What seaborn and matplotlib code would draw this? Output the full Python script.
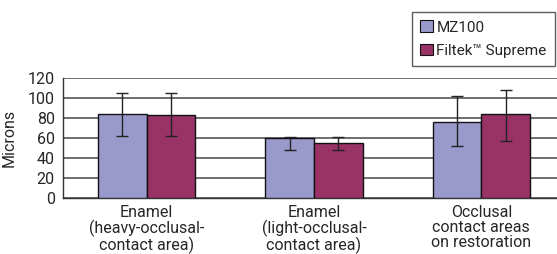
import matplotlib
matplotlib.use("Agg")

import numpy as np
import pandas as pd
import matplotlib.pyplot as plt
import seaborn as sns
from matplotlib.patches import Patch

# values (microns)
categories = ["Enamel\n(heavy-occlusal-\ncontact area)",
              "Enamel\n(light-occlusal-\ncontact area)",
              "Occlusal\ncontact areas\non restoration"]
series = ["MZ100", "Filtek\u2122 Supreme"]
mz100 = [84, 60, 76]
filtek = [83, 55, 84]
mz100_low = [62, 48, 52]
mz100_high = [105, 61, 102]
filtek_low = [62, 48, 57]
filtek_high = [105, 61, 108]
colors = ["#9999cc", "#993366"]
y_ticks = [0, 20, 40, 60, 80, 100, 120]

sns.set_style("white")
plt.rcParams["font.family"] = ["Roboto", "DejaVu Sans"]
FS = 11.5

df = pd.DataFrame({
    "Category": categories * 2,
    "Material": [series[0]] * 3 + [series[1]] * 3,
    "Microns": mz100 + filtek,
})

fig = plt.figure(figsize=(5.57, 2.54), dpi=100)
ax = fig.add_axes([63 / 557, 56 / 254, 498 / 557, 120 / 254])

sns.barplot(data=df, x="Category", y="Microns", hue="Material",
            palette=colors, saturation=1, width=0.58, errorbar=None,
            edgecolor="#111111", linewidth=1, ax=ax, legend=False, zorder=3)

# error bars, placed on the bars seaborn drew
lows = mz100_low + filtek_low
highs = mz100_high + filtek_high
vals = mz100 + filtek
bars = [p for p in ax.patches][:6]
for bar, v, lo, hi in zip(bars, vals, lows, highs):
    xc = bar.get_x() + bar.get_width() / 2
    ax.errorbar(xc, v, yerr=[[v - lo], [hi - v]], fmt="none",
                ecolor="#222222", elinewidth=1, capsize=4.5, capthick=1, zorder=4)

ax.set_ylim(0, 120)
ax.set_xlim(-0.5, 2.5 - 4 / 166)
ax.set_yticks(y_ticks)
ax.yaxis.grid(True, color="#555555", linewidth=1.2, zorder=0)
ax.set_axisbelow(True)
ax.tick_params(axis="y", length=5, width=1, color="#333333", labelsize=FS, pad=1)
ax.tick_params(axis="x", which="major", length=0, labelsize=FS, pad=5)
ax.set_xticks([0.5, 1.5], minor=True)
ax.tick_params(axis="x", which="minor", length=5, width=1, color="#333333")
ax.set_xlabel("")
ax.set_ylabel("Microns", fontsize=FS)
ax.yaxis.set_label_coords(-46 / 498, 0.5)
for s in ["top", "right"]:
    ax.spines[s].set_visible(False)
for s in ["left", "bottom"]:
    ax.spines[s].set_color("#333333")
    ax.spines[s].set_linewidth(1)
for lbl in ax.get_xticklabels():
    lbl.set_linespacing(1.0)

handles = [Patch(facecolor=c, edgecolor="#111111", linewidth=0.8) for c in colors]
leg = fig.legend(handles, series, loc="upper left", bbox_to_anchor=(412 / 557, 1 - 12 / 254),
                 frameon=True, fancybox=False, fontsize=11, handlelength=0.8,
                 handleheight=0.8, handletextpad=0.25, borderpad=0.55, labelspacing=0.6,
                 borderaxespad=0)
leg.get_frame().set_edgecolor("#333333")
leg.get_frame().set_linewidth(1)

fig.savefig("out.png", dpi=100)
